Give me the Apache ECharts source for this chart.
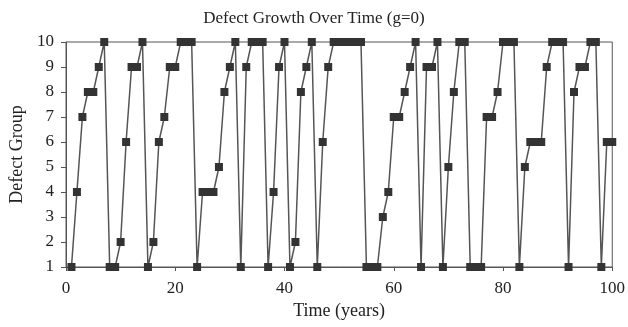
<!DOCTYPE html>
<html>
<head>
<meta charset="utf-8">
<script src="https://cdn.jsdelivr.net/npm/echarts@6/dist/echarts.min.js"></script>
<style>
    html, body { margin: 0; padding: 0; background: #fff; }
    #chart { width: 628px; height: 327px; }
</style>
</head>
<body>
<div id="chart"></div>
<script>
// years 1..100
var years = [];
for (var i = 1; i <= 100; i++) years.push(i);

var defectGroup = [
    1, 4, 7, 8, 8, 9, 10, 1, 1, 2,
    6, 9, 9, 10, 1, 2, 6, 7, 9, 9,
    10, 10, 10, 1, 4, 4, 4, 5, 8, 9,
    10, 1, 9, 10, 10, 10, 1, 4, 9, 10,
    1, 2, 8, 9, 10, 1, 6, 9, 10, 10,
    10, 10, 10, 10, 1, 1, 1, 3, 4, 7,
    7, 8, 9, 10, 1, 9, 9, 10, 1, 5,
    8, 10, 10, 1, 1, 1, 7, 7, 8, 10,
    10, 10, 1, 5, 6, 6, 6, 9, 10, 10,
    10, 1, 8, 9, 9, 10, 10, 1, 6, 6
];

var xTicks = [0, 20, 40, 60, 80, 100];

var font = 'Liberation Serif, Times New Roman, serif';
var chart = echarts.init(document.getElementById('chart'));

chart.setOption({
    animation: false,
    title: {
        text: 'Defect Growth Over Time (g=0)',
        left: 'center',
        top: 5,
        textStyle: { fontFamily: font, fontSize: 17, fontWeight: 'normal', color: '#222' }
    },
    grid: {
        left: 66, right: 15, top: 42, bottom: 60,
        show: true,
        borderColor: '#555',
        borderWidth: 1
    },
    xAxis: {
        type: 'value',
        min: xTicks[0],
        max: xTicks[xTicks.length - 1],
        interval: 20,
        name: 'Time (years)',
        nameLocation: 'middle',
        nameGap: 30,
        nameTextStyle: { fontFamily: font, fontSize: 18, color: '#222' },
        axisLine: { lineStyle: { color: '#555', width: 1 } },
        axisTick: { show: true, length: 4, lineStyle: { color: '#555' } },
        axisLabel: { fontFamily: font, fontSize: 17, color: '#222', margin: 13 },
        splitLine: { show: false }
    },
    yAxis: {
        type: 'value',
        min: 1,
        max: 10,
        interval: 1,
        name: 'Defect Group',
        nameLocation: 'middle',
        nameGap: 40,
        nameTextStyle: { fontFamily: font, fontSize: 18, color: '#222' },
        axisLine: { show: true, lineStyle: { color: '#555', width: 1 } },
        axisTick: { show: true, length: 5, lineStyle: { color: '#555' } },
        axisLabel: { fontFamily: font, fontSize: 17, color: '#222', margin: 12 },
        splitLine: { show: false }
    },
    series: [{
        type: 'line',
        data: years.map(function (y, i) { return [y, defectGroup[i]]; }),
        symbol: 'rect',
        symbolSize: 8,
        showAllSymbol: true,
        lineStyle: { color: '#555', width: 1.5 },
        itemStyle: { color: '#333' }
    }]
});
</script>
</body>
</html>
